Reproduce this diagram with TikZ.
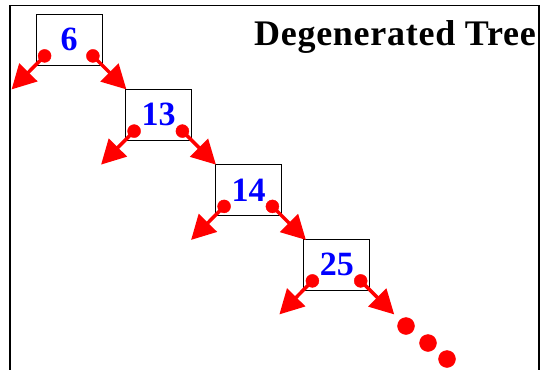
\documentclass[tikz,border=0pt]{standalone}
\usepackage{fontspec}
\setmainfont{Liberation Serif}
\newfontfamily\titlefont[LetterSpace=2]{Liberation Serif}
\usetikzlibrary{arrows.meta}
\begin{document}
\begin{tikzpicture}[x=1pt,y=-1pt,
  key/.style={draw=black,line width=0.8pt,minimum width=66pt,minimum height=51pt,inner sep=0pt,
    font=\fontsize{34}{34}\selectfont\bfseries,text=blue},
  link/.style={red,line width=3.5pt,-{Triangle[length=24pt,width=25pt]}},
  pin/.style={red,fill=red}]
\useasboundingbox (0,0) rectangle (542,370);
\draw[line width=1.2pt] (10,370) -- (10,5.5) -- (539,5.5) -- (539,370);
\node[anchor=base east,inner sep=0pt,font=\titlefont\fontsize{36}{36}\selectfont\bfseries] (title) at (536,45) {Degenerated Tree};
\node[key] (n6) at (69,39.5) {6};
\node[key] (n13) at (158.5,114.7) {13};
\node[key] (n14) at (248.5,190) {14};
\node[key] (n25) at (336.8,264.5) {25};
\foreach \n in {6,13,14,25} {
  \coordinate (l\n) at ([shift={(9,-9.5)}]n\n.south west);
  \coordinate (r\n) at ([shift={(-9.5,-9.5)}]n\n.south east);
  \coordinate (lt\n) at ([shift={(-24,24)}]n\n.south west);
  \coordinate (rt\n) at ([shift={(24,24)}]n\n.south east);
  \draw[link] (l\n) -- (lt\n);
  \draw[link] (r\n) -- (rt\n);
  \filldraw[pin] (l\n) circle[radius=6.5pt];
  \filldraw[pin] (r\n) circle[radius=6.5pt];
}
\filldraw[pin] (406,326) circle[radius=8.5pt];
\filldraw[pin] (428,343) circle[radius=8.5pt];
\filldraw[pin] (447,359) circle[radius=8.5pt];
\end{tikzpicture}
\end{document}
